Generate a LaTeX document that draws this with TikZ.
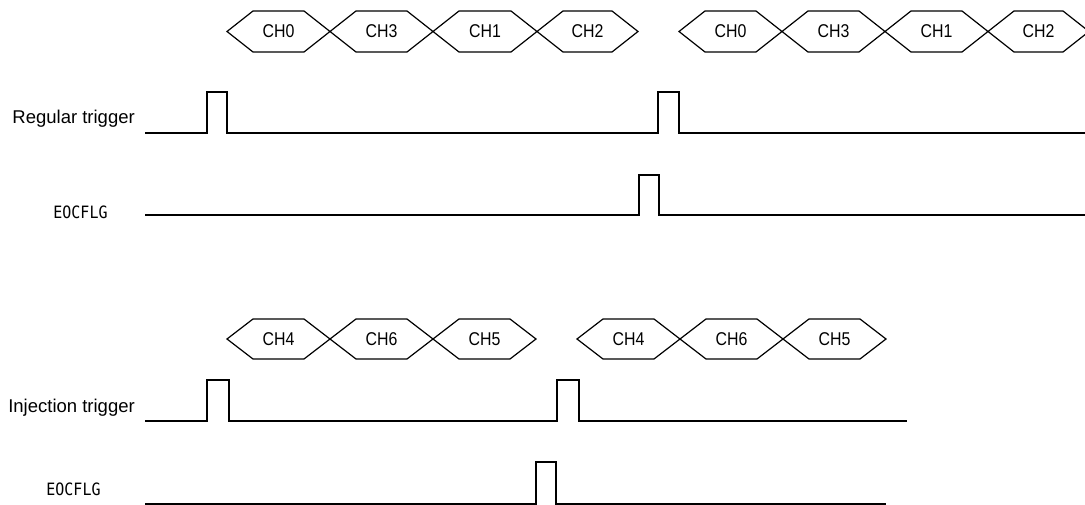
\documentclass[tikz,border=0pt]{standalone}
\usepackage{fontspec}
\setmainfont{Liberation Sans}
\newfontfamily\chfont{Liberation Sans}[FakeStretch=0.86]
\newfontfamily\eocfont{DejaVu Sans Mono}[FakeStretch=0.88]
\tikzset{
  sig/.style={line width=1.3pt, line join=miter},
  hexline/.style={line width=1.2pt, line join=miter},
  chlabel/.style={inner sep=0pt, font=\chfont\fontsize{18.5}{20}\selectfont},
  siglabel/.style={inner sep=0pt, anchor=east, font=\fontsize{18.5}{21}\selectfont},
  eoclabel/.style={inner sep=0pt, font=\eocfont\fontsize{17}{18}\selectfont},
}
% \hexa{left tip}{right tip}{centre y}{half height}{label}{name}
\newcommand{\hexa}[6]{%
  \draw[hexline] (#1,#3) -- ({#1+26},{#3-#4}) -- ({#2-26},{#3-#4}) -- (#2,#3)
     -- ({#2-26},{#3+#4}) -- ({#1+26},{#3+#4}) -- cycle;
  \node[chlabel] (#6) at ({(#1+#2)/2},#3) {#5};
}
\begin{document}
\begin{tikzpicture}[x=1pt,y=-1pt]
\clip (0,0) rectangle (1085,505);
\useasboundingbox (0,0) rectangle (1085,505);
% regular group hexagons
\hexa{227}{330}{31.5}{20.5}{CH0}{r0a}
\hexa{330}{433}{31.5}{20.5}{CH3}{r3a}
\hexa{433}{537}{31.5}{20.5}{CH1}{r1a}
\hexa{537}{638}{31.5}{20.5}{CH2}{r2a}
\hexa{679}{782}{31.5}{20.5}{CH0}{r0b}
\hexa{782}{885}{31.5}{20.5}{CH3}{r3b}
\hexa{885}{988}{31.5}{20.5}{CH1}{r1b}
\hexa{988}{1089}{31.5}{20.5}{CH2}{r2b}
% injection group hexagons
\hexa{227}{330}{339}{20}{CH4}{i4a}
\hexa{330}{433}{339}{20}{CH6}{i6a}
\hexa{433}{536}{339}{20}{CH5}{i5a}
\hexa{577}{680}{339}{20}{CH4}{i4b}
\hexa{680}{783}{339}{20}{CH6}{i6b}
\hexa{783}{886}{339}{20}{CH5}{i5b}
% labels
\node[siglabel] (lreg) at (135,119) {Regular trigger};
\node[eoclabel] (leoc1) at (80.5,212) {EOCFLG};
\node[siglabel] (linj) at (135,407.5) {Injection trigger};
\node[eoclabel] (leoc2) at (73.5,489.5) {EOCFLG};
% signals
\draw[sig] (145,133) -- (207,133) -- (207,92) -- (227,92) -- (227,133)
  -- (658,133) -- (658,92) -- (679,92) -- (679,133) -- (1085,133);
\draw[sig] (145,215) -- (639,215) -- (639,175) -- (659,175) -- (659,215) -- (1085,215);
\draw[sig] (145,421) -- (207,421) -- (207,380) -- (229,380) -- (229,421)
  -- (557,421) -- (557,380) -- (579,380) -- (579,421) -- (907,421);
\draw[sig] (145,504) -- (536,504) -- (536,462) -- (556,462) -- (556,504) -- (886,504);
\end{tikzpicture}
\end{document}
